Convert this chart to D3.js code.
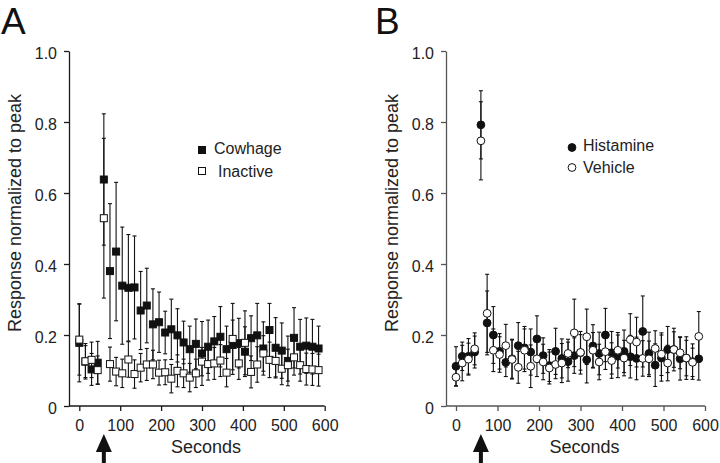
<!DOCTYPE html>
<html><head><meta charset="utf-8">
<script src="https://cdn.jsdelivr.net/npm/d3@7"></script>
<style>body{margin:0;background:#fff}svg{display:block}</style>
</head><body><svg id="c" width="720" height="463"></svg>
<script>
// ---- data ----
const seconds = [0,15,30,45,60,75,90,105,120,135,150,165,180,195,210,225,240,255,270,285,
                 300,315,330,345,360,375,390,405,420,435,450,465,480,495,510,525,540,555,570,585];
const yTickValues = [0,0.2,0.4,0.6,0.8,1.0];
const yTickLabels = ["0","0.2","0.4","0.6","0.8","1.0"];
const xTickValues = [0,100,200,300,400,500,600];
const xTickLabels = ["0","100","200","300","400","500","600"];
const stimulusTime = 60;

const cowhage = [0.178,0.125,0.103,0.122,0.638,0.380,0.435,0.339,0.333,0.334,0.269,0.283,0.230,0.236,0.207,0.216,0.199,0.179,0.160,0.175,
                 0.148,0.167,0.182,0.195,0.160,0.172,0.177,0.153,0.191,0.199,0.162,0.214,0.164,0.156,0.127,0.192,0.167,0.170,0.167,0.162];
const cowhageErr = [0.11,0.045,0.045,0.06,0.185,0.19,0.195,0.165,0.15,0.145,0.11,0.105,0.10,0.085,0.06,0.085,0.075,0.06,0.065,0.07,
                    0.09,0.075,0.07,0.085,0.065,0.07,0.07,0.07,0.063,0.09,0.075,0.075,0.085,0.078,0.07,0.085,0.077,0.078,0.077,0.063];
const inactive = [0.187,0.126,0.130,0.101,0.529,0.118,0.097,0.092,0.131,0.090,0.108,0.117,0.117,0.094,0.095,0.077,0.099,0.092,0.080,0.092,
                  0.125,0.118,0.120,0.128,0.094,0.189,0.120,0.178,0.096,0.117,0.148,0.130,0.127,0.105,0.115,0.137,0.115,0.104,0.103,0.101];
const inactiveErr = [0.10,0.05,0.05,0.04,0.225,0.048,0.04,0.04,0.05,0.04,0.04,0.045,0.04,0.035,0.035,0.04,0.045,0.04,0.04,0.04,
                     0.04,0.045,0.045,0.045,0.04,0.10,0.045,0.09,0.045,0.05,0.05,0.05,0.045,0.045,0.045,0.05,0.045,0.045,0.045,0.045];

const histamine = [0.112,0.140,0.140,0.152,0.792,0.234,0.200,0.154,0.123,0.133,0.170,0.164,0.152,0.189,0.142,0.114,0.154,0.134,0.125,0.142,
                   0.150,0.130,0.169,0.148,0.200,0.150,0.140,0.154,0.139,0.134,0.210,0.148,0.115,0.135,0.159,0.159,0.133,0.135,0.125,0.133];
const histamineErr = [0.055,0.04,0.05,0.045,0.096,0.09,0.08,0.05,0.04,0.055,0.065,0.06,0.065,0.065,0.05,0.045,0.065,0.055,0.055,0.05,
                      0.06,0.065,0.06,0.06,0.075,0.06,0.06,0.06,0.06,0.06,0.10,0.06,0.06,0.065,0.065,0.06,0.06,0.06,0.05,0.06];
const vehicle = [0.081,0.121,0.132,0.161,0.747,0.261,0.157,0.145,0.170,0.131,0.109,0.157,0.112,0.133,0.124,0.107,0.117,0.121,0.148,0.206,
                 0.151,0.195,0.157,0.124,0.153,0.128,0.157,0.135,0.187,0.180,0.134,0.133,0.162,0.146,0.121,0.159,0.150,0.135,0.123,0.196];
const vehicleErr = [0.025,0.05,0.045,0.045,0.11,0.11,0.06,0.05,0.06,0.055,0.045,0.06,0.06,0.05,0.05,0.045,0.04,0.055,0.04,0.095,
                    0.05,0.078,0.05,0.05,0.05,0.05,0.05,0.05,0.073,0.07,0.05,0.05,0.05,0.06,0.05,0.05,0.045,0.05,0.04,0.07];

// ---- drawing ----
const svg = d3.select("#c");
const FONT = "'Liberation Sans', Arial, Helvetica, sans-serif";

function panel(cfg) {
  const g = svg.append("g");
  const x = d3.scaleLinear().domain([0,600]).range(cfg.xRange);
  const y = d3.scaleLinear().domain([0,1]).range([406,51]);

  // y axis
  const ya = g.append("g").attr("transform",`translate(${cfg.yAxisX},0)`)
    .call(d3.axisLeft(y).tickValues(yTickValues).tickFormat((d,i)=>yTickLabels[i])
      .tickSize(5).tickSizeOuter(0).tickPadding(7));
  // x axis
  const xa = g.append("g").attr("transform",`translate(0,${y(0)})`)
    .call(d3.axisBottom(x).tickValues(xTickValues).tickFormat((d,i)=>xTickLabels[i])
      .tickSize(5).tickSizeOuter(0).tickPadding(9));
  xa.select(".domain").remove();
  xa.append("line").attr("x1",cfg.yAxisX).attr("x2",x(600)).attr("y1",0).attr("y2",0);
  [ya,xa].forEach(a=>{
    a.selectAll("path,line").attr("stroke",cfg.axisColor).attr("stroke-width",1.3);
    a.selectAll("text").attr("font-family",FONT).attr("font-size",16).attr("fill","#222");
  });
  ya.selectAll("text").attr("dy","0.45em");

  // labels
  g.append("text").attr("transform",`translate(${cfg.yAxisX-48},${cfg.yLabelY}) rotate(-90)`)
    .attr("text-anchor","middle").attr("font-family",FONT).attr("font-size",18).attr("fill","#222")
    .text("Response normalized to peak");
  g.append("text").attr("x",(x(0)+x(600))/2+4).attr("y",453).attr("text-anchor","middle")
    .attr("font-family",FONT).attr("font-size",18).attr("fill","#222").text("Seconds");
  g.append("text").attr("x",cfg.letterX).attr("y",34).attr("font-family",FONT)
    .attr("font-size",37).attr("fill","#111").text(cfg.letter);

  // arrow
  const ax = x(stimulusTime);
  g.append("path").attr("d",`M${ax},434 L${ax+8},452 L${ax+2},452 L${ax+2},463 L${ax-2},463 L${ax-2},452 L${ax-8},452 Z`)
    .attr("fill","#111");

  // error bars
  cfg.series.forEach(s=>{
    const eb = g.append("g").attr("stroke","#111").attr("stroke-width",1.1);
    seconds.forEach((t,i)=>{
      const cx = x(t), v = s.values[i], e = s.err[i];
      eb.append("line").attr("x1",cx).attr("x2",cx).attr("y1",y(v+e)).attr("y2",y(Math.max(0,v-e)));
      eb.append("line").attr("x1",cx-2).attr("x2",cx+2).attr("y1",y(v+e)).attr("y2",y(v+e));
      eb.append("line").attr("x1",cx-2).attr("x2",cx+2).attr("y1",y(v-e)).attr("y2",y(v-e));
    });
  });
  // markers
  function marker(sel, shape, filled, cx, cy) {
    if (shape === "square") {
      sel.append("rect").attr("x",cx-3.5).attr("y",cy-3.5).attr("width",7).attr("height",7)
        .attr("fill",filled?"#111":"#fff").attr("stroke","#111").attr("stroke-width",1);
    } else {
      sel.append("circle").attr("cx",cx).attr("cy",cy).attr("r",3.9)
        .attr("fill",filled?"#111":"#fff").attr("stroke","#111").attr("stroke-width",1);
    }
  }
  cfg.series.forEach(s=>{
    const mg = g.append("g");
    seconds.forEach((t,i)=>marker(mg, cfg.shape, s.filled, x(t), y(s.values[i])));
  });
  // legend
  cfg.series.forEach((s,k)=>{
    const L = cfg.legend[k];
    marker(g, cfg.shape, s.filled, L.mx, L.my);
    g.append("text").attr("x",L.tx).attr("y",L.ty).attr("font-family",FONT).attr("font-size",16)
      .attr("fill","#222").text(s.name);
  });
}

panel({
  letter:"A", letterX:1, xRange:[79.3,324.7], yAxisX:69, yLabelY:213, axisColor:"#1a1a1a", shape:"square",
  series:[{name:"Cowhage",values:cowhage,err:cowhageErr,filled:true},
          {name:"Inactive",values:inactive,err:inactiveErr,filled:false}],
  legend:[{mx:202,my:150,tx:214,ty:154},{mx:202,my:171,tx:218,ty:177}]
});
panel({
  letter:"B", letterX:375, xRange:[456,705], yAxisX:446, yLabelY:213, axisColor:"#555", shape:"circle",
  series:[{name:"Histamine",values:histamine,err:histamineErr,filled:true},
          {name:"Vehicle",values:vehicle,err:vehicleErr,filled:false}],
  legend:[{mx:572,my:147.5,tx:583,ty:151},{mx:572,my:167.5,tx:583,ty:173}]
});
</script></body></html>
